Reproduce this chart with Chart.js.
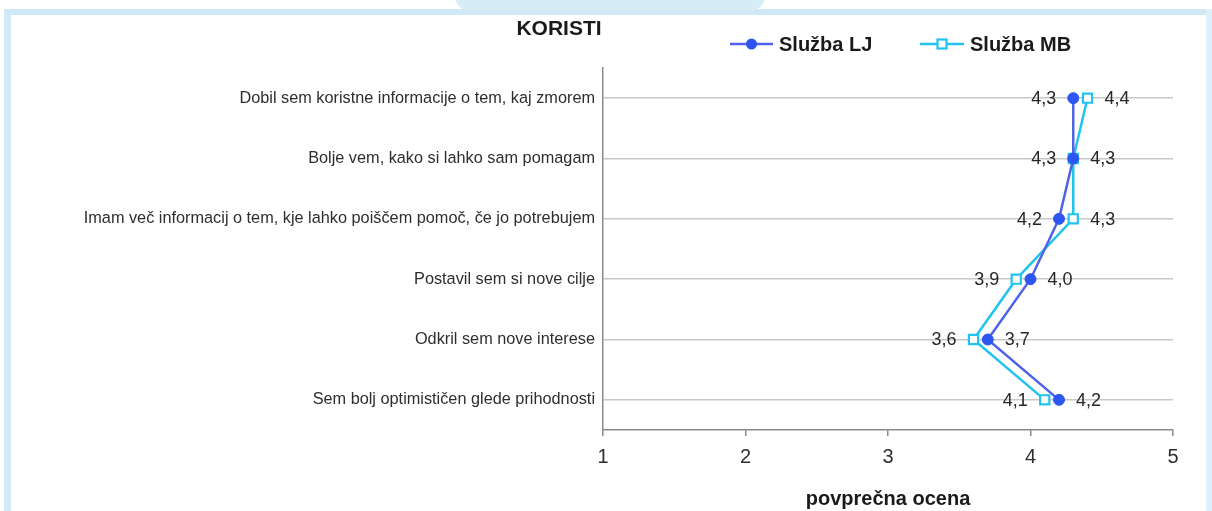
<!DOCTYPE html>
<html>
<head>
<meta charset="utf-8">
<script src="https://cdn.jsdelivr.net/npm/chart.js@4.4.1/dist/chart.umd.min.js"></script>
<style>
  html,body{margin:0;padding:0;background:#fff;}
  #wrap{position:relative;width:1212px;height:511px;overflow:hidden;background:#fff;}
  #c{position:absolute;left:0;top:0;}
  .band{position:absolute;background:#d0e8f8;z-index:2;}
</style>
</head>
<body>
<div id="wrap">
  <canvas id="c" width="1212" height="511"></canvas>
  <div class="band" style="left:4px;top:9px;width:1208px;height:6px;"></div>
  <div class="band" style="left:4px;top:9px;width:7px;height:502px;"></div>
  <div class="band" style="left:1206px;top:9px;width:6px;height:502px;background:#e0f0fb;"></div>
  <div class="band" style="left:455px;top:-4px;width:310px;height:15px;border-radius:0 0 16px 16px;background:#d6edf6;"></div>
</div>
<script>
const categories = [
  'Dobil sem koristne informacije o tem, kaj zmorem',
  'Bolje vem, kako si lahko sam pomagam',
  'Imam več informacij o tem, kje lahko poiščem pomoč, če jo potrebujem',
  'Postavil sem si nove cilje',
  'Odkril sem nove interese',
  'Sem bolj optimističen glede prihodnosti'
];
const seriesNames = ['Služba LJ', 'Služba MB'];
const valuesLJ = [4.3, 4.3, 4.2, 4.0, 3.7, 4.2];
const valuesMB = [4.4, 4.3, 4.3, 3.9, 3.6, 4.1];
const xTicks = [1, 2, 3, 4, 5];
const chartTitle = 'KORISTI';
const axisTitle = 'povprečna ocena';

const FONT = "'Liberation Sans', Arial, sans-serif";
const C_LJ_LINE = '#4f63e6', C_LJ_PT = '#2d55f0';
const C_MB = '#22c4ef';

const fmt = v => v.toFixed(1).replace('.', ',');

const valueLabels = {
  id: 'valueLabels',
  afterDatasetsDraw(chart) {
    const ctx = chart.ctx;
    const m0 = chart.getDatasetMeta(0), m1 = chart.getDatasetMeta(1);
    const d0 = chart.data.datasets[0].data, d1 = chart.data.datasets[1].data;
    ctx.save();
    ctx.font = '18px ' + FONT;
    ctx.fillStyle = '#262626';
    ctx.textBaseline = 'middle';
    for (let i = 0; i < d0.length; i++) {
      const p0 = m0.data[i], p1 = m1.data[i];
      let left, right, lv, rv;
      if (d0[i] <= d1[i]) { left = p0; lv = d0[i]; right = p1; rv = d1[i]; }
      else { left = p1; lv = d1[i]; right = p0; rv = d0[i]; }
      ctx.textAlign = 'right';
      ctx.fillText(fmt(lv), left.x - 17, left.y + 1);
      ctx.textAlign = 'left';
      ctx.fillText(fmt(rv), right.x + 17, right.y + 1);
    }
    ctx.restore();
  }
};

const titleLegend = {
  id: 'titleLegend',
  afterDraw(chart) {
    const ctx = chart.ctx;
    ctx.save();
    ctx.fillStyle = '#1a1a1a';
    ctx.font = 'bold 21px ' + FONT;
    ctx.textAlign = 'center';
    ctx.textBaseline = 'middle';
    ctx.fillText(chartTitle, 559, 29);
    const y = 44;
    const items = [
      {x0: 730, x1: 773, name: seriesNames[0], line: C_LJ_LINE, type: 'circle'},
      {x0: 920, x1: 964, name: seriesNames[1], line: C_MB, type: 'rect'}
    ];
    items.forEach(it => {
      ctx.strokeStyle = it.line;
      ctx.lineWidth = 2.5;
      ctx.beginPath(); ctx.moveTo(it.x0, y); ctx.lineTo(it.x1, y); ctx.stroke();
      const cx = (it.x0 + it.x1) / 2;
      if (it.type === 'circle') {
        ctx.fillStyle = C_LJ_PT;
        ctx.beginPath(); ctx.arc(cx, y, 5.5, 0, Math.PI * 2); ctx.fill();
      } else {
        ctx.fillStyle = '#fff';
        ctx.strokeStyle = C_MB;
        ctx.lineWidth = 2.2;
        ctx.fillRect(cx - 4.5, y - 4.5, 9, 9);
        ctx.strokeRect(cx - 4.5, y - 4.5, 9, 9);
      }
      ctx.fillStyle = '#1a1a1a';
      ctx.font = 'bold 20px ' + FONT;
      ctx.textAlign = 'left';
      ctx.fillText(it.name, it.x1 + 6, y + 1);
    });
    ctx.restore();
  }
};

new Chart(document.getElementById('c'), {
  type: 'line',
  data: {
    labels: categories,
    datasets: [
      {
        label: seriesNames[0], data: valuesLJ,
        borderColor: C_LJ_LINE, borderWidth: 2.5,
        pointStyle: 'circle', pointRadius: 5.5,
        pointBackgroundColor: C_LJ_PT, pointBorderColor: C_LJ_PT, pointBorderWidth: 1,
        tension: 0, order: 0
      },
      {
        label: seriesNames[1], data: valuesMB,
        borderColor: C_MB, borderWidth: 2.5,
        pointStyle: 'rect', pointRadius: 6.5,
        pointBackgroundColor: '#fff', pointBorderColor: C_MB, pointBorderWidth: 2.2,
        tension: 0, order: 1
      }
    ]
  },
  options: {
    indexAxis: 'y',
    responsive: false,
    animation: false,
    devicePixelRatio: 1,
    events: [],
    layout: { padding: { top: 68, right: 39, bottom: 0, left: 0 } },
    plugins: { legend: { display: false }, title: { display: false }, tooltip: { enabled: false } },
    scales: {
      y: {
        type: 'category',
        offset: true,
        grid: { offset: false, color: '#c8c8c8', lineWidth: 1.5, drawTicks: false },
        border: { color: '#8a8a8a', width: 1.5 },
        ticks: { padding: 8, color: '#2e2e2e', font: { family: FONT, size: 16.3 } },
        afterFit(s) { s.width = 603; }
      },
      x: {
        type: 'linear', min: xTicks[0], max: xTicks[xTicks.length - 1],
        afterBuildTicks(s) { s.ticks = xTicks.map(v => ({ value: v })); },
        ticks: { padding: 9, color: '#2e2e2e', font: { family: FONT, size: 20 } },
        grid: { drawOnChartArea: false, drawTicks: true, tickLength: 6, color: '#8a8a8a', lineWidth: 1.5 },
        border: { color: '#8a8a8a', width: 1.5 },
        title: { display: true, text: axisTitle, color: '#1a1a1a', font: { family: FONT, size: 20, weight: 'bold' }, padding: { top: 0, bottom: 0 } },
        afterFit(s) { s.height = 81; }
      }
    }
  },
  plugins: [valueLabels, titleLegend]
});
</script>
</body>
</html>
